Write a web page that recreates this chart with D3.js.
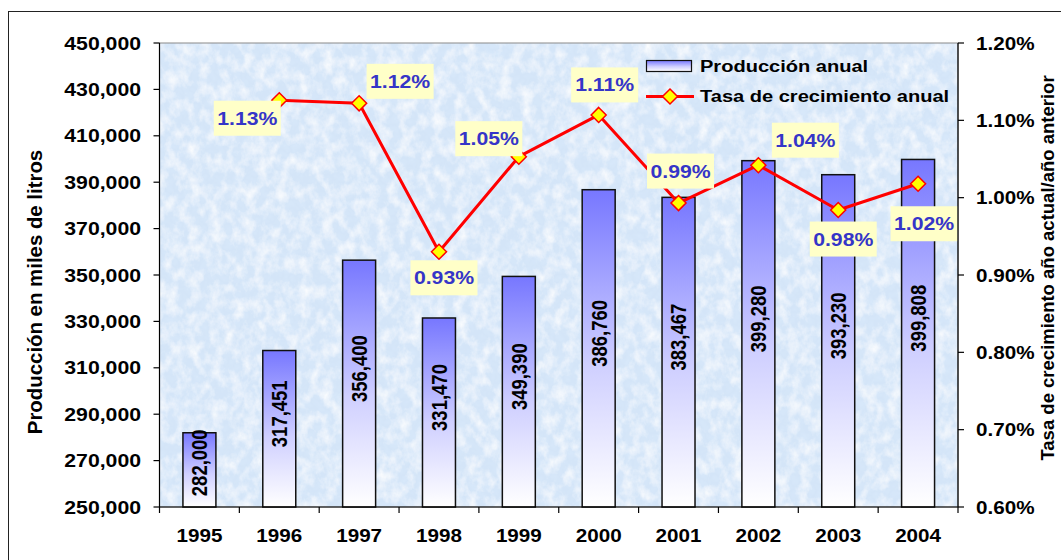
<!DOCTYPE html>
<html>
<head>
<meta charset="utf-8">
<script src="https://cdn.jsdelivr.net/npm/d3@7"></script>
<style>
  body { margin: 0; background: #fff; }
  svg { display: block; font-family: "Liberation Sans", Arial, sans-serif; }
</style>
</head>
<body>
<div id="chart"></div>
<script>
// datos
const years = ['1995', '1996', '1997', '1998', '1999', '2000', '2001', '2002', '2003', '2004'];
const produccion = [282000, 317451, 356400, 331470, 349390, 386760, 383467, 399280, 393230, 399808];
const tasaYears = ['1996', '1997', '1998', '1999', '2000', '2001', '2002', '2003', '2004'];
const tasa = [1.126, 1.122, 0.930, 1.053, 1.107, 0.993, 1.042, 0.984, 1.018];
const leftTicks = [250000, 270000, 290000, 310000, 330000, 350000, 370000, 390000, 410000, 430000, 450000];
const rightTicks = [0.6, 0.7, 0.8, 0.9, 1.0, 1.1, 1.2];

const W = 1061, H = 560;
const sx = 1.18; // el gráfico original está estirado en horizontal
const plot = { left: 159.5, right: 958, top: 43, bottom: 507 };

const svg = d3.select('#chart').append('svg')
  .attr('width', W).attr('height', H);

const defs = svg.append('defs');

// degradado de las barras
const grad = defs.append('linearGradient')
  .attr('id', 'barGrad').attr('x1', 0).attr('y1', 0).attr('x2', 0).attr('y2', 1);
grad.append('stop').attr('offset', '0%').attr('stop-color', '#7777ff');
grad.append('stop').attr('offset', '55%').attr('stop-color', '#cfcfff');
grad.append('stop').attr('offset', '100%').attr('stop-color', '#ffffff');

// textura del fondo
const f = defs.append('filter').attr('id', 'marble')
  .attr('x', 0).attr('y', 0).attr('width', 1).attr('height', 1);
f.append('feTurbulence').attr('type', 'fractalNoise')
  .attr('baseFrequency', '0.09 0.07').attr('numOctaves', 4).attr('seed', 7).attr('result', 'noise');
f.append('feColorMatrix').attr('in', 'noise').attr('type', 'matrix')
  .attr('values', '0 0 0 0 1  0 0 0 0 1  0 0 0 0 1  1.6 0 0 0 -0.62').attr('result', 'white');
f.append('feTurbulence').attr('type', 'turbulence')
  .attr('baseFrequency', '0.12').attr('numOctaves', 2).attr('seed', 2).attr('result', 'veins');
f.append('feColorMatrix').attr('in', 'veins').attr('type', 'matrix')
  .attr('values', '0 0 0 0 0.72  0 0 0 0 0.84  0 0 0 0 0.98  0 0 0 0.6 -0.05').attr('result', 'blue');
f.append('feFlood').attr('flood-color', '#d4e5f8').attr('result', 'base');
f.append('feComposite').attr('in', 'blue').attr('in2', 'base').attr('operator', 'over').attr('result', 'b1');
f.append('feComposite').attr('in', 'white').attr('in2', 'b1').attr('operator', 'over');

// borde exterior
svg.append('rect')
  .attr('x', 8.5).attr('y', 11.5).attr('width', 1200).attr('height', 700)
  .attr('fill', 'none').attr('stroke', '#222').attr('stroke-width', 1);

// escalas
const x = d3.scaleBand(years, [plot.left, plot.right]).paddingInner(0.587).paddingOuter(0.2935);
const y = d3.scaleLinear([250000, 450000], [plot.bottom, plot.top]);
const y2 = d3.scaleLinear([0.6, 1.2], [plot.bottom, plot.top]);
const cx = d => x(d) + x.bandwidth() / 2;

// área de trazado
svg.append('rect')
  .attr('x', plot.left).attr('y', plot.top)
  .attr('width', plot.right - plot.left).attr('height', plot.bottom - plot.top)
  .attr('filter', 'url(#marble)');
svg.append('rect')
  .attr('x', plot.left).attr('y', plot.top)
  .attr('width', plot.right - plot.left).attr('height', plot.bottom - plot.top)
  .attr('fill', 'none').attr('stroke', '#8a8a8a');

// texto horizontal con el estiramiento
function htext(g, tx, ty, str, size, anchor) {
  return g.append('text')
    .attr('transform', 'translate(' + tx + ',' + ty + ') scale(' + sx + ',1)')
    .attr('text-anchor', anchor || 'start')
    .attr('font-size', size).attr('font-weight', 'bold')
    .text(str);
}

// barras
const bars = svg.append('g');
bars.selectAll('rect').data(years).join('rect')
  .attr('x', d => x(d))
  .attr('y', (d, i) => y(produccion[i]))
  .attr('width', x.bandwidth())
  .attr('height', (d, i) => plot.bottom - y(produccion[i]))
  .attr('fill', 'url(#barGrad)')
  .attr('stroke', '#111').attr('stroke-width', 1.5);

// etiquetas de las barras
bars.selectAll('text').data(years).join('text')
  .attr('transform', (d, i) => {
    const top = y(produccion[i]);
    const mid = (top + plot.bottom) / 2;
    const ly = Math.max(mid - 15, top + 30);
    return 'translate(' + cx(d) + ',' + ly + ') scale(' + sx + ',1) rotate(-90)';
  })
  .attr('dy', '0.36em')
  .attr('text-anchor', 'middle')
  .attr('font-size', 18.5).attr('font-weight', 'bold').attr('fill', '#000')
  .text((d, i) => d3.format(',')(produccion[i]));

// línea de la tasa
const line = d3.line().x(d => cx(d[0])).y(d => y2(d[1]));
const pts = tasaYears.map((d, i) => [d, tasa[i]]);
svg.append('path').datum(pts)
  .attr('d', line)
  .attr('fill', 'none').attr('stroke', '#ff0000').attr('stroke-width', 3)
  .attr('stroke-linejoin', 'round');

const diamond = 'M0,-7.5L7.5,0L0,7.5L-7.5,0Z';
svg.append('g').selectAll('path').data(pts).join('path')
  .attr('d', diamond)
  .attr('transform', d => 'translate(' + cx(d[0]) + ',' + y2(d[1]) + ')')
  .attr('fill', '#ffff00').attr('stroke', '#ff0000').attr('stroke-width', 1.5);

// etiquetas de la tasa (colocadas a mano en el original)
const labelOffsets = [[-32, 18], [41, -22], [5, 26], [-30, -18], [6, -30], [2, -32], [47, -25], [5, 29], [6, 40]];
const lab = svg.append('g');
pts.forEach((d, i) => {
  const lx = cx(d[0]) + labelOffsets[i][0];
  const ly = y2(d[1]) + labelOffsets[i][1];
  lab.append('rect')
    .attr('x', lx - 33.5).attr('y', ly - 17.5)
    .attr('width', 67).attr('height', 35)
    .attr('fill', '#ffffc8');
  htext(lab, lx, ly + 6.5, d3.format('.2f')(d[1]) + '%', 18, 'middle')
    .attr('fill', '#3535c8');
});

// ejes
const axes = svg.append('g').attr('stroke', '#000').attr('stroke-width', 1.2);
axes.append('line').attr('x1', plot.left).attr('x2', plot.left).attr('y1', plot.top).attr('y2', plot.bottom);
axes.append('line').attr('x1', plot.right).attr('x2', plot.right).attr('y1', plot.top).attr('y2', plot.bottom);
axes.append('line').attr('x1', plot.left).attr('x2', plot.right).attr('y1', plot.bottom).attr('y2', plot.bottom);

axes.selectAll('line.lt').data(leftTicks).join('line').attr('class', 'lt')
  .attr('x1', plot.left - 6).attr('x2', plot.left)
  .attr('y1', d => y(d)).attr('y2', d => y(d));
axes.selectAll('line.rt').data(rightTicks).join('line').attr('class', 'rt')
  .attr('x1', plot.right).attr('x2', plot.right + 6)
  .attr('y1', d => y2(d)).attr('y2', d => y2(d));
const xEdges = years.map(d => x(d) - x.step() * x.paddingInner() / 2).concat([plot.right]);
axes.selectAll('line.xt').data(xEdges).join('line').attr('class', 'xt')
  .attr('x1', d => d).attr('x2', d => d)
  .attr('y1', plot.bottom).attr('y2', plot.bottom + 6);

const labels = svg.append('g').attr('fill', '#000');
leftTicks.forEach(d => htext(labels, 141, y(d) + 6.5, d3.format(',')(d), 18, 'end'));
rightTicks.forEach(d => htext(labels, 976, y2(d) + 6.5, d3.format('.2f')(d) + '%', 17.5, 'start'));
years.forEach(d => htext(labels, cx(d), 542, d, 17.5, 'middle'));

// títulos de los ejes
svg.append('text')
  .attr('transform', 'translate(41.5,292) rotate(-90)')
  .attr('text-anchor', 'middle')
  .attr('font-size', 20.4).attr('font-weight', 'bold')
  .text('Producción en miles de litros');
svg.append('text')
  .attr('transform', 'translate(1054,268) rotate(-90)')
  .attr('text-anchor', 'middle')
  .attr('font-size', 18.5).attr('font-weight', 'bold')
  .text('Tasa de crecimiento año actual/año anterior');

// leyenda
const leg = svg.append('g');
leg.append('rect')
  .attr('x', 646.5).attr('y', 60.5).attr('width', 45).attr('height', 11)
  .attr('fill', 'url(#barGrad)').attr('stroke', '#111').attr('stroke-width', 1.2);
htext(leg, 700, 72, 'Producción anual', 17, 'start');
leg.append('line')
  .attr('x1', 646).attr('x2', 694).attr('y1', 96.5).attr('y2', 96.5)
  .attr('stroke', '#ff0000').attr('stroke-width', 3);
leg.append('path').attr('d', diamond)
  .attr('transform', 'translate(670,96.5)')
  .attr('fill', '#ffff00').attr('stroke', '#ff0000').attr('stroke-width', 1.5);
htext(leg, 700, 102, 'Tasa de crecimiento anual', 17, 'start');
</script>
</body>
</html>
